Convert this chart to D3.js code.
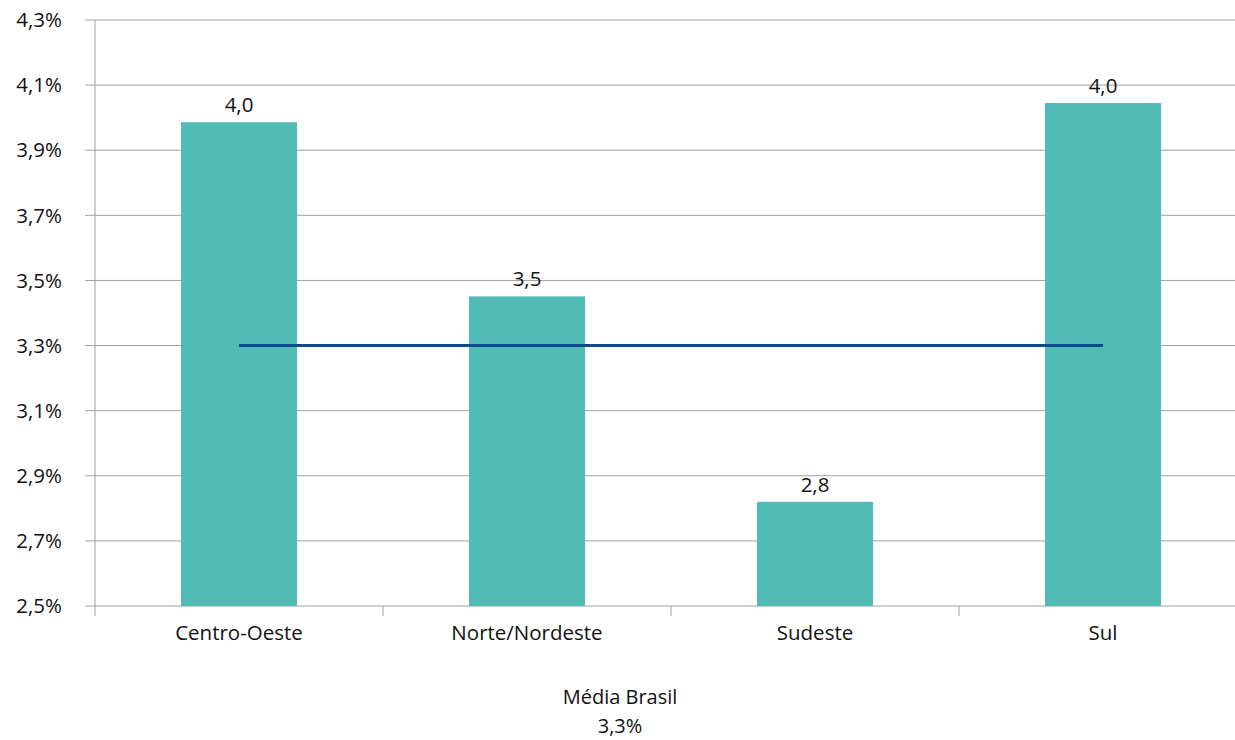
<!DOCTYPE html>
<html>
<head>
<meta charset="utf-8">
<script src="https://cdn.jsdelivr.net/npm/d3@7"></script>
<style>
  body { margin: 0; background: #fff; }
  text { font-family: "Open Sans", "Noto Sans", sans-serif; fill: #111; }
</style>
</head>
<body>
<script>
// dados
const regioes = ['Centro-Oeste', 'Norte/Nordeste', 'Sudeste', 'Sul'];
const valores = [3.986, 3.451, 2.82, 4.045];
const mediaBrasil = 3.3;
const ticksY = [2.5, 2.7, 2.9, 3.1, 3.3, 3.5, 3.7, 3.9, 4.1, 4.3];

const width = 1235, height = 740;
const mLeft = 95, mRight = 1247, mTop = 20, mBottom = 606;
const fs = '20.5px';

const fmt = v => d3.format('.1f')(v).replace('.', ',');

const svg = d3.select('body').append('svg')
    .attr('width', width)
    .attr('height', height);

const xb = d3.scaleBand().domain(regioes).range([mLeft, mRight]);
const y = d3.scaleLinear().domain([2.5, 4.3]).range([mBottom, mTop]);
const barW = xb.bandwidth() * 0.403;
const cx = r => xb(r) + xb.bandwidth() / 2;

// grade horizontal
svg.append('g').selectAll('line')
    .data(ticksY)
    .enter().append('line')
    .attr('x1', mLeft - 10).attr('x2', mRight)
    .attr('y1', d => y(d)).attr('y2', d => y(d))
    .attr('stroke', '#a0a0a0').attr('stroke-width', 1);

// rotulos eixo y
svg.append('g').selectAll('text')
    .data(ticksY)
    .enter().append('text')
    .attr('x', 62).attr('y', d => y(d))
    .attr('dy', '0.35em')
    .attr('text-anchor', 'end')
    .style('font-size', fs)
    .text(d => fmt(d) + '%');

// eixo y
svg.append('line')
    .attr('x1', mLeft).attr('x2', mLeft)
    .attr('y1', mTop).attr('y2', mBottom + 10)
    .attr('stroke', '#a0a0a0');

// marcas entre categorias
svg.append('g').selectAll('line')
    .data(regioes.slice(1))
    .enter().append('line')
    .attr('x1', d => xb(d)).attr('x2', d => xb(d))
    .attr('y1', mBottom).attr('y2', mBottom + 10)
    .attr('stroke', '#a0a0a0');

// barras
svg.append('g').selectAll('rect')
    .data(valores)
    .enter().append('rect')
    .attr('x', (d, i) => cx(regioes[i]) - barW / 2)
    .attr('y', d => y(d))
    .attr('width', barW)
    .attr('height', d => y(2.5) - y(d))
    .attr('fill', '#52bbb5');

// valores
svg.append('g').selectAll('text')
    .data(valores)
    .enter().append('text')
    .attr('x', (d, i) => cx(regioes[i]))
    .attr('y', d => y(d) - 10)
    .attr('text-anchor', 'middle')
    .style('font-size', fs)
    .text(d => fmt(d));

// linha media
svg.append('line')
    .attr('x1', cx(regioes[0])).attr('x2', cx(regioes[regioes.length - 1]))
    .attr('y1', y(mediaBrasil)).attr('y2', y(mediaBrasil))
    .attr('stroke', '#0d4a8c').attr('stroke-width', 3);

// rotulos categorias
svg.append('g').selectAll('text')
    .data(regioes)
    .enter().append('text')
    .attr('x', d => cx(d))
    .attr('y', 640)
    .attr('text-anchor', 'middle')
    .style('font-size', fs)
    .text(d => d);

// legenda
svg.append('text')
    .attr('x', 620).attr('y', 704)
    .attr('text-anchor', 'middle')
    .style('font-size', '20px')
    .text('Média Brasil');
svg.append('text')
    .attr('x', 620).attr('y', 733)
    .attr('text-anchor', 'middle')
    .style('font-size', '20px')
    .text(fmt(mediaBrasil) + '%');
</script>
</body>
</html>
